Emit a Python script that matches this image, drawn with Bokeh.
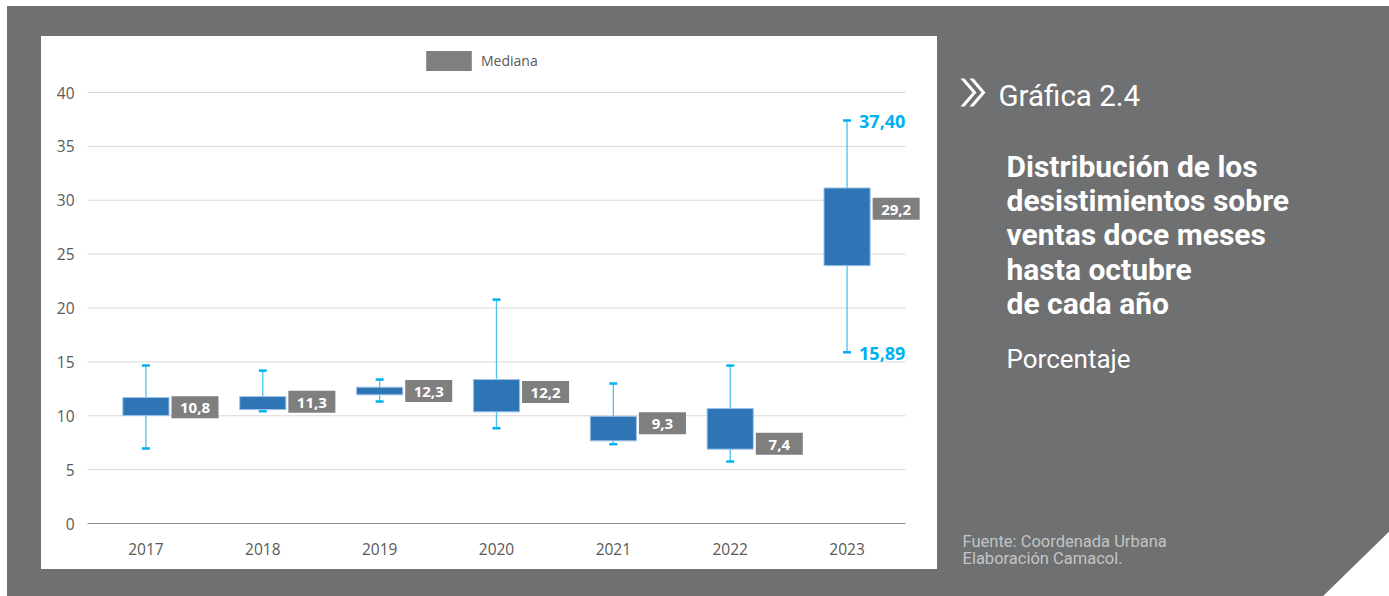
from bokeh.plotting import figure
from bokeh.layouts import row, column
from bokeh.models import (ColumnDataSource, Range1d, Legend, LegendItem, FixedTicker, Spacer)
from bokeh.transform import dodge
from bokeh.core.properties import value
from bokeh.embed import file_html
from bokeh.resources import INLINE

# ---------------- data ----------------
years = ["2017", "2018", "2019", "2020", "2021", "2022", "2023"]
q1 = [10.02, 10.57, 11.94, 10.36, 7.67, 6.90, 23.93]
q3 = [11.69, 11.78, 12.65, 13.36, 9.95, 10.67, 31.14]
whisker_low = [6.96, 10.42, 11.32, 8.84, 7.36, 5.75, 15.89]
whisker_high = [14.66, 14.19, 13.36, 20.78, 12.99, 14.66, 37.40]
median = [10.8, 11.3, 12.3, 12.2, 9.3, 7.4, 29.2]
y_ticks = [0, 5, 10, 15, 20, 25, 30, 35, 40]
legend_label = "Mediana"
chart_number = "Gráfica 2.4"
title_lines = ["Distribución de los", "desistimientos sobre", "ventas doce meses",
               "hasta octubre", "de cada año"]
unit_label = "Porcentaje"
source_lines = ["Fuente: Coordenada Urbana", "Elaboración Camacol."]

# ---------------- styling ----------------
GRAY = "#6f7072"
BOX = "#2e75b6"
CYAN = "#00b0f0"
STEM = "#4cc2f1"
LABEL_BG = "#7f7f7f"
TICK_COLOR = "#595959"
GRID = "#d9d9d9"


def fmt(v, d):
    return f"{v:.{d}f}".replace(".", ",")


n = len(years)
xpos = [i + 0.5 for i in range(n)]

src = ColumnDataSource(dict(
    x=xpos, year=years, q1=q1, q3=q3, lo=whisker_low, hi=whisker_high, med=median,
    mlabel=[fmt(m, 1) for m in median],
))
ext_src = ColumnDataSource(dict(
    x=[xpos[-1], xpos[-1]],
    val=[whisker_high[-1], whisker_low[-1]],
    txt=[fmt(whisker_high[-1], 2), fmt(whisker_low[-1], 2)],
))
grid_src = ColumnDataSource(dict(y=[t for t in y_ticks if t > 0]))

# ---------------- chart (white panel) ----------------
CW, CH = 896, 533
FL, FR, FT, FB = 46, 882, 10, 487          # frame edges inside the chart canvas
PX_PER_UNIT = 431 / 40.0
YMAX = (FB - FT) / PX_PER_UNIT
XMAX = n + (FR - FL - 818) / (818 / n)

p = figure(width=CW, height=CH, x_range=Range1d(0, XMAX), y_range=Range1d(0, YMAX),
           output_backend="svg", toolbar_location=None,
           min_border_left=FL, min_border_right=CW - FR,
           min_border_top=FT, min_border_bottom=CH - FB,
           border_fill_color="white", background_fill_color="white",
           outline_line_color=None, styles={"background-color": "white"})

p.yaxis.ticker = FixedTicker(ticks=y_ticks)
p.yaxis.axis_line_color = None
p.yaxis.major_tick_line_color = None
p.yaxis.minor_tick_line_color = None
p.yaxis.major_tick_out = 0
p.yaxis.major_tick_in = 0
p.yaxis.major_label_standoff = 13

p.xaxis.ticker = FixedTicker(ticks=xpos)
p.xaxis.major_label_overrides = {x: y for x, y in zip(xpos, years)}
p.xaxis.bounds = (0, n)
p.xaxis.axis_line_color = "#8c8c8c"
p.xaxis.axis_line_width = 1
p.xaxis.major_tick_line_color = None
p.xaxis.minor_tick_line_color = None
p.xaxis.major_tick_out = 0
p.xaxis.major_tick_in = 0
p.xaxis.major_label_standoff = 19
for ax in (p.xaxis, p.yaxis):
    ax.major_label_text_font = "Open Sans"
    ax.major_label_text_font_size = "15.5px"
    ax.major_label_text_color = TICK_COLOR
p.grid.grid_line_color = None

# horizontal gridlines limited to the category extent
p.segment(x0=0, x1=n, y0="y", y1="y", source=grid_src, line_color=GRID,
          line_width=1, level="underlay")

# whiskers
p.segment(x0="x", y0="lo", x1="x", y1="hi", source=src,
          line_color=STEM, line_width=1.3)
p.rect(x="x", y="lo", width=8, height=2.5, width_units="screen",
       height_units="screen", source=src, fill_color=CYAN, line_color=None)
p.rect(x="x", y="hi", width=8, height=2.5, width_units="screen",
       height_units="screen", source=src, fill_color=CYAN, line_color=None)

# boxes
p.vbar(x="x", width=0.395, bottom="q1", top="q3", source=src,
       fill_color=BOX, line_color="#9dc3e6", line_width=1)

# median labels
med_r = p.rect(x=dodge("x", 0.42), y="med", width=47, height=22,
               width_units="screen", height_units="screen", source=src,
               fill_color=LABEL_BG, line_color=None)
p.text(x=dodge("x", 0.42), y="med", text="mlabel", source=src,
       text_font=value("Open Sans"), text_font_style="bold", text_font_size="15px",
       text_color="white", text_align="center", text_baseline="middle", y_offset=1)

# extreme labels of the last year
p.text(x="x", y="val", text="txt", source=ext_src, x_offset=12,
       text_font=value("Open Sans"), text_font_style="bold", text_font_size="18px",
       text_color=CYAN, text_align="left", text_baseline="middle", y_offset=1)

legend = Legend(items=[LegendItem(label=legend_label, renderers=[med_r])],
                location=(333, 450), orientation="horizontal",
                glyph_width=57, glyph_height=25, label_standoff=4,
                padding=0, margin=0, border_line_color=None,
                background_fill_alpha=0,
                label_text_font="Open Sans", label_text_font_size="14px",
                label_text_color=TICK_COLOR, label_text_baseline="middle")
p.add_layout(legend, "center")

# ---------------- right panel ----------------
RX0, RX1, RY0, RY1 = 937, 1389, 6, 596
q = figure(width=RX1 - RX0, height=RY1 - RY0,
           x_range=Range1d(RX0, RX1), y_range=Range1d(RY1, RY0),
           output_backend="svg", toolbar_location=None,
           x_axis_location=None, y_axis_location=None,
           min_border=0, border_fill_color=GRAY, background_fill_color=GRAY,
           outline_line_color=None)
q.grid.grid_line_color = None

# cut corner
q.patch(x=[1318, 1395, 1395], y=[600, 600, 525], fill_color="white", line_color=None)

# double chevron
chev = [(960, 78), (964, 78), (976, 92), (964, 106), (960, 106), (972, 92)]
q.patches(xs=[[a + off for a, b in chev] for off in (0, 9)],
          ys=[[b for a, b in chev] for off in (0, 9)],
          fill_color="white", line_color=None)

SHIFT = -9.5
q.text(x=[998], y=[105 + SHIFT], text=[chart_number], text_font=value("Roboto"),
       text_font_size="29.5px", text_color="white", text_baseline="alphabetic")
q.text(x=[1006] * len(title_lines),
       y=[175 + SHIFT + i * 34.4 for i in range(len(title_lines))],
       text=title_lines, text_font=value("Roboto"), text_font_style="bold",
       text_font_size="30px", text_color="white", text_baseline="alphabetic")
q.text(x=[1006], y=[368 + SHIFT], text=[unit_label], text_font=value("Roboto"),
       text_font_size="26px", text_color="white", text_baseline="alphabetic")
q.text(x=[962] * len(source_lines),
       y=[550 + SHIFT + i * 17.5 for i in range(len(source_lines))],
       text=source_lines, text_font=value("Roboto"), text_font_size="16.5px",
       text_color="#c4c4c4", text_baseline="alphabetic")

# ---------------- layout ----------------
gray = {"background-color": GRAY}
left = column(
    Spacer(width=930, height=30, styles=gray),
    row(Spacer(width=34, height=CH, styles=gray), p),
    Spacer(width=930, height=27, styles=gray),
    styles=gray,
)
root = row(left, q, styles=gray, margin=(6, 0, 0, 7))

open("out.html", "w").write(file_html(root, INLINE))
